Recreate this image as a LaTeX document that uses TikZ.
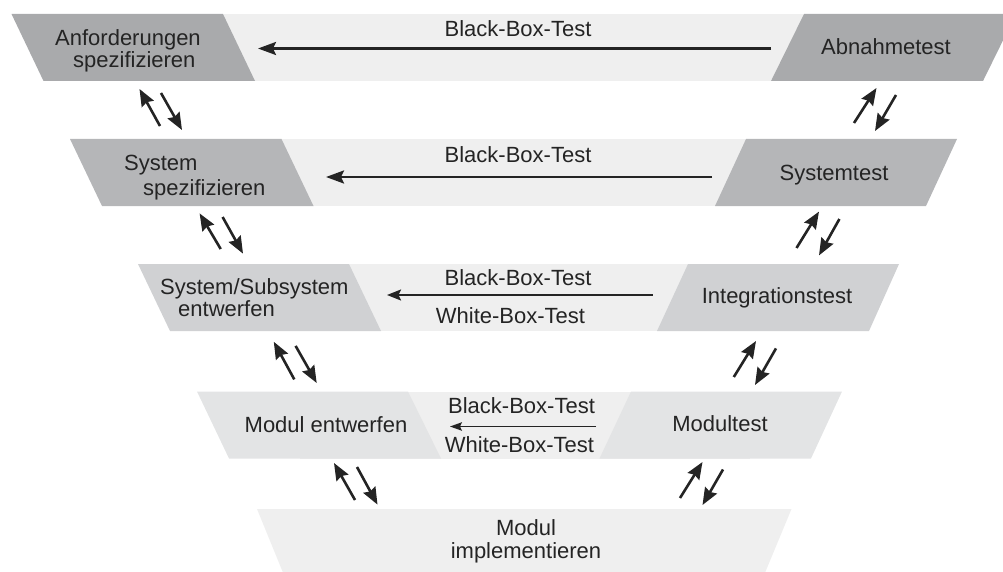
\documentclass[tikz,border=0pt]{standalone}
\usepackage{fontspec}
\setmainfont{Liberation Sans}
\usetikzlibrary{arrows.meta}

\definecolor{bandlight}{HTML}{EFEFEF}
\definecolor{boxA}{HTML}{A9AAAC}
\definecolor{boxB}{HTML}{B5B6B8}
\definecolor{boxC}{HTML}{D0D1D3}
\definecolor{boxD}{HTML}{E3E4E5}
\definecolor{ink}{HTML}{242424}

\begin{document}
\begin{tikzpicture}[x=1pt,y=-1pt,
  lbl/.style={font=\fontsize{22}{23}\selectfont, text=ink, inner sep=0pt, anchor=base},
  lbll/.style={lbl, anchor=base west},
  flowA/.style={draw=ink, line width=2.6pt, -{Stealth[length=18pt,width=13pt,inset=3pt]}},
  flowB/.style={draw=ink, line width=2.0pt, -{Stealth[length=14pt,width=11pt,inset=2.5pt]}},
  flowC/.style={draw=ink, line width=1.4pt, -{Stealth[length=12pt,width=8.5pt,inset=2pt]}},
  hop/.style={draw=ink, line width=2.6pt, -{Stealth[length=17pt,width=13.5pt,inset=2pt]}}
]
\useasboundingbox (0,0) rectangle (1003,572);
\clip (0,0) rectangle (1003,572);

% ---- light bands behind each level
\fill[bandlight] (150,14)  rectangle (900,81);
\fill[bandlight] (200,139) rectangle (850,206);
\fill[bandlight] (250,264) rectangle (800,331);
\fill[bandlight] (300,391.5) rectangle (750,458.5);

% ---- level 1
\fill[boxA] (11.5,14) -- (223,14) -- (255,81) -- (43.5,81) -- cycle;
\fill[boxA] (804,14) -- (1016,14) -- (983,81) -- (771,81) -- cycle;
% ---- level 2
\fill[boxB] (70,139) -- (281.5,139) -- (313.5,206) -- (102,206) -- cycle;
\fill[boxB] (746,139) -- (957,139) -- (926,206) -- (715,206) -- cycle;
% ---- level 3
\fill[boxC] (138,264) -- (349,264) -- (381,331) -- (170,331) -- cycle;
\fill[boxC] (688,264) -- (899,264) -- (869,331) -- (657,331) -- cycle;
% ---- level 4
\fill[boxD] (197,391.5) -- (408,391.5) -- (441,458.5) -- (229,458.5) -- cycle;
\fill[boxD] (631,391.5) -- (842,391.5) -- (811,458.5) -- (599.5,458.5) -- cycle;
% ---- level 5
\fill[bandlight] (257,509) -- (791.5,509) -- (762,580) -- (286,580) -- cycle;

% ---- labels
\node[lbll] (req1) at (55,46)   {Anforderungen};
\node[lbll] (req2) at (73,67.5) {spezifizieren};
\node[lbl]  (bb1)  at (518,37)  {Black-Box-Test};
\node[lbl]  (acc)  at (886,55)  {Abnahmetest};

\node[lbll] (sys1) at (124,171) {System};
\node[lbll] (sys2) at (143,195) {spezifizieren};
\node[lbl]  (bb2)  at (518,163) {Black-Box-Test};
\node[lbl]  (syst) at (834,181) {Systemtest};

\node[lbll] (sub1) at (160,294)   {System/Subsystem};
\node[lbll] (sub2) at (178,316.7) {entwerfen};
\node[lbl]  (bb3)  at (518,285)   {Black-Box-Test};
\node[lbl]  (wb3)  at (510.5,323) {White-Box-Test};
\node[lbl]  (intt) at (777,303.5) {Integrationstest};

\node[lbl]  (mod)  at (326,432.7)   {Modul entwerfen};
\node[lbl]  (bb4)  at (521.5,413.3) {Black-Box-Test};
\node[lbl]  (wb4)  at (519.5,452.7) {White-Box-Test};
\node[lbl]  (modt) at (720,431.7)   {Modultest};

\node[lbl]  (imp1) at (526,535.5) {Modul};
\node[lbl]  (imp2) at (526,558)   {implementieren};

% ---- test flows, right to left
\coordinate (h1s) at (771,48.5);   \coordinate (h1e) at (258,48.5);
\coordinate (h2s) at (712,177);    \coordinate (h2e) at (326,177);
\coordinate (h3s) at (652.6,295);  \coordinate (h3e) at (387,295);
\coordinate (h4s) at (596,426.5);  \coordinate (h4e) at (450,426.5);
\draw[flowA] (h1s) -- (h1e);
\draw[flowA] (h2s) -- (h2e);
\draw[flowB] (h3s) -- (h3e);
\draw[flowC] (h4s) -- (h4e);

% ---- paired arrows between levels (left: design, right: test)
\coordinate (a1a) at (160,126);    \coordinate (a1b) at (139.5,89);
\coordinate (a1c) at (161,93);     \coordinate (a1d) at (182,130);
\coordinate (b1a) at (854,123);    \coordinate (b1b) at (876.5,88);
\coordinate (b1c) at (896,95);     \coordinate (b1d) at (875,131);

\coordinate (a2a) at (220.7,249);  \coordinate (a2b) at (199.6,213.4);
\coordinate (a2c) at (222.6,217);  \coordinate (a2d) at (243,253.6);
\coordinate (b2a) at (796.5,248);  \coordinate (b2b) at (819,211.6);
\coordinate (b2c) at (839.4,219);  \coordinate (b2d) at (819,255.4);

\coordinate (a3a) at (294.3,379.4); \coordinate (a3b) at (273.8,341.8);
\coordinate (a3c) at (295.6,345.9); \coordinate (a3d) at (316.7,383);
\coordinate (b3a) at (733.8,377);   \coordinate (b3b) at (756,341);
\coordinate (b3c) at (776,348.4);   \coordinate (b3d) at (755,385);

\coordinate (a4a) at (355,500);    \coordinate (a4b) at (334,463);
\coordinate (a4c) at (357,467);    \coordinate (a4d) at (377.5,504.6);
\coordinate (b4a) at (680,498);    \coordinate (b4b) at (702.5,462);
\coordinate (b4c) at (723,469.5);  \coordinate (b4d) at (702.5,505);

\foreach \k in {1,2,3,4}{
  \draw[hop] (a\k a) -- (a\k b);
  \draw[hop] (a\k c) -- (a\k d);
  \draw[hop] (b\k a) -- (b\k b);
  \draw[hop] (b\k c) -- (b\k d);
}
\end{tikzpicture}
\end{document}
